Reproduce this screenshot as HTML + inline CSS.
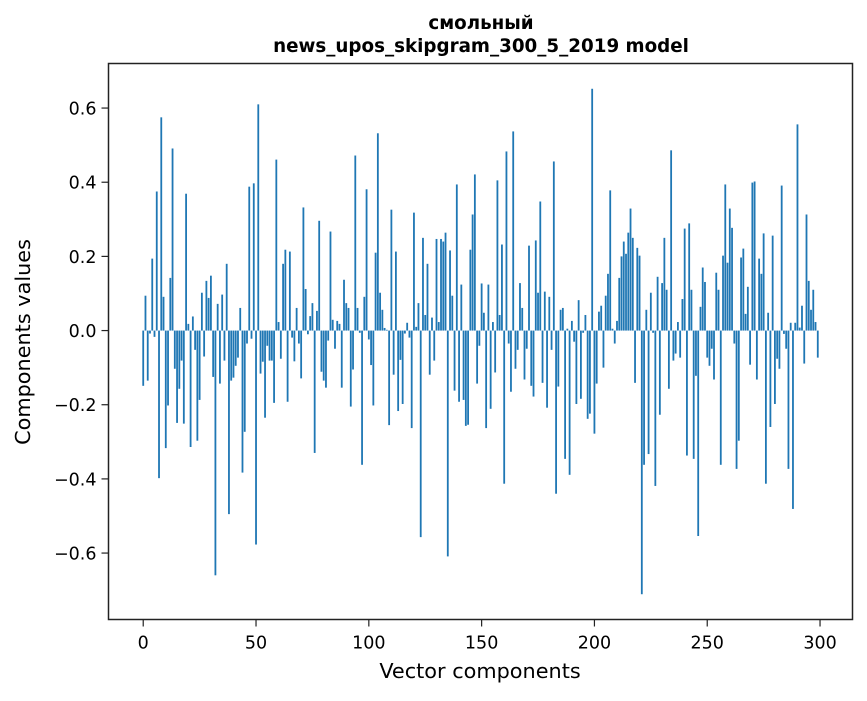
<!DOCTYPE html>
<html><head><meta charset="utf-8"><style>
body{margin:0;background:#fff;}
svg text{font-family:"DejaVu Sans","Liberation Sans",sans-serif;fill:#000;}
</style></head><body>
<svg id="chart" width="867" height="696" xmlns="http://www.w3.org/2000/svg">
<rect width="867" height="696" fill="#fff"/>
<text x="481" y="29" text-anchor="middle" font-size="18.3" font-weight="bold">смольный</text>
<text x="481" y="52" text-anchor="middle" font-size="18.3" font-weight="bold">news_upos_skipgram_300_5_2019 model</text>
<g id="bars"></g>
<g id="xticks"></g>
<g id="yticks"></g>
<rect x="108.5" y="63.5" width="744" height="556" fill="none" stroke="#222" stroke-width="1.5"/>
<text x="480" y="678" text-anchor="middle" font-size="20.8">Vector components</text>
<text transform="translate(30,342) rotate(-90)" text-anchor="middle" font-size="20.8">Components values</text>
</svg>
<script>
const values = [
-0.149,0.094,-0.135,-0.008,0.194,-0.017,0.375,-0.398,0.575,0.091,
-0.317,-0.202,0.142,0.491,-0.103,-0.249,-0.157,-0.081,-0.251,0.369,
0.018,-0.314,0.038,-0.052,-0.297,-0.187,0.102,-0.07,0.134,0.088,
0.148,-0.125,-0.66,0.072,-0.143,0.097,-0.081,0.18,-0.495,-0.135,
-0.127,-0.095,-0.073,0.061,-0.383,-0.273,-0.035,0.388,-0.022,0.397,
-0.577,0.61,-0.116,-0.084,-0.235,-0.041,-0.081,-0.081,-0.195,0.461,
0.023,-0.076,0.18,0.218,-0.192,0.213,-0.019,-0.083,0.061,-0.035,
-0.129,0.332,0.112,-0.01,0.039,0.074,-0.33,0.053,0.296,-0.111,
-0.135,-0.154,-0.027,0.267,0.029,-0.049,0.026,0.018,-0.154,0.137,
0.074,0.061,-0.205,-0.105,0.472,0.061,-0.006,-0.362,0.091,0.381,
-0.024,-0.093,-0.202,0.21,0.532,0.102,0.056,0.007,0.002,-0.255,
0.326,-0.119,0.213,-0.217,-0.079,-0.198,-0.008,0.021,-0.019,-0.263,
0.318,0.01,0.074,-0.557,0.25,0.042,0.18,-0.119,0.035,-0.081,
0.247,0.023,0.247,0.24,0.264,-0.609,0.216,0.094,-0.162,0.394,
-0.192,0.124,-0.187,-0.257,-0.254,0.218,0.313,0.421,-0.143,-0.041,
0.127,0.048,-0.263,0.124,-0.211,0.023,-0.113,0.405,0.042,0.232,
-0.413,0.483,-0.035,-0.165,0.537,-0.103,-0.052,0.128,0.061,-0.132,
-0.049,0.229,-0.149,-0.178,0.243,0.102,0.348,-0.141,0.105,-0.208,
0.091,-0.052,0.456,-0.44,-0.151,0.056,0.061,-0.346,0.005,-0.389,
0.026,-0.03,-0.198,0.082,-0.184,-0.006,0.042,-0.238,-0.224,0.652,
-0.278,-0.143,0.051,0.067,-0.1,0.094,0.153,0.378,0.005,-0.035,
0.026,0.142,0.2,0.24,0.207,0.264,0.329,0.25,-0.141,0.223,
0.202,-0.711,-0.362,0.056,-0.333,0.102,-0.006,-0.419,0.145,-0.227,
0.128,0.25,0.11,-0.157,0.486,-0.081,-0.062,0.023,-0.073,0.085,
0.275,-0.337,0.289,0.11,-0.346,-0.122,-0.554,0.064,0.17,0.131,
-0.073,-0.095,-0.049,-0.132,0.156,0.11,-0.362,0.202,0.394,0.183,
0.329,0.277,-0.035,-0.373,-0.297,0.197,0.221,0.045,0.118,-0.092,
0.399,0.402,-0.132,0.194,0.153,0.262,-0.413,0.048,-0.26,0.256,
-0.198,-0.076,-0.103,0.391,-0.009,-0.049,-0.373,0.021,-0.481,0.021,
0.556,0.008,0.067,-0.089,0.313,0.134,0.056,0.11,0.023,-0.073
];
const xTickLabels = ["0","50","100","150","200","250","300"];
const yTickValues = [-0.6,-0.4,-0.2,0.0,0.2,0.4,0.6];
const yTickLabels = ["\u22120.6","\u22120.4","\u22120.2","0.0","0.2","0.4","0.6"];

const NS = "http://www.w3.org/2000/svg";
const L = 108.5, R = 852.5, T = 63.5, B = 619.5;
const n = values.length;
const xmin = -0.4 - 0.05*(n - 1 + 0.8), xmax = n - 1 + 0.4 + 0.05*(n - 1 + 0.8);
const vmin = Math.min(0, ...values), vmax = Math.max(0, ...values);
const ymin = vmin - 0.05*(vmax - vmin), ymax = vmax + 0.05*(vmax - vmin);
const xs = v => L + (v - xmin) / (xmax - xmin) * (R - L);
const ys = v => B - (v - ymin) / (ymax - ymin) * (B - T);

const bars = document.getElementById('bars');
values.forEach((v, i) => {
  const r = document.createElementNS(NS, 'rect');
  const x0 = xs(i - 0.4), x1 = xs(i + 0.4);
  const y0 = ys(Math.max(v, 0)), y1 = ys(Math.min(v, 0));
  r.setAttribute('x', x0);
  r.setAttribute('y', y0);
  r.setAttribute('width', x1 - x0);
  r.setAttribute('height', Math.max(y1 - y0, 0.3));
  r.setAttribute('fill', '#1f77b4');
  
  
  bars.appendChild(r);
});

const xt = document.getElementById('xticks');
xTickLabels.forEach(lab => {
  const v = parseFloat(lab), x = xs(v);
  const ln = document.createElementNS(NS, 'line');
  ln.setAttribute('x1', x); ln.setAttribute('x2', x);
  ln.setAttribute('y1', B); ln.setAttribute('y2', B + 7);
  ln.setAttribute('stroke', '#222'); ln.setAttribute('stroke-width', '1.2');
  
  
  xt.appendChild(ln);
  const t = document.createElementNS(NS, 'text');
  t.setAttribute('x', x); t.setAttribute('y', B + 29);
  t.setAttribute('text-anchor', 'middle'); t.setAttribute('font-size', '17.5');
  t.textContent = lab;
  
  
  xt.appendChild(t);
});

const yt = document.getElementById('yticks');
yTickValues.forEach((v, k) => {
  const y = ys(v);
  const ln = document.createElementNS(NS, 'line');
  ln.setAttribute('x1', L - 7); ln.setAttribute('x2', L);
  ln.setAttribute('y1', y); ln.setAttribute('y2', y);
  ln.setAttribute('stroke', '#222'); ln.setAttribute('stroke-width', '1.2');
  
  
  yt.appendChild(ln);
  const t = document.createElementNS(NS, 'text');
  t.setAttribute('x', L - 12); t.setAttribute('y', y + 6.5);
  t.setAttribute('text-anchor', 'end'); t.setAttribute('font-size', '17.5');
  t.textContent = yTickLabels[k];
  
  
  yt.appendChild(t);
});
</script>
</body></html>
